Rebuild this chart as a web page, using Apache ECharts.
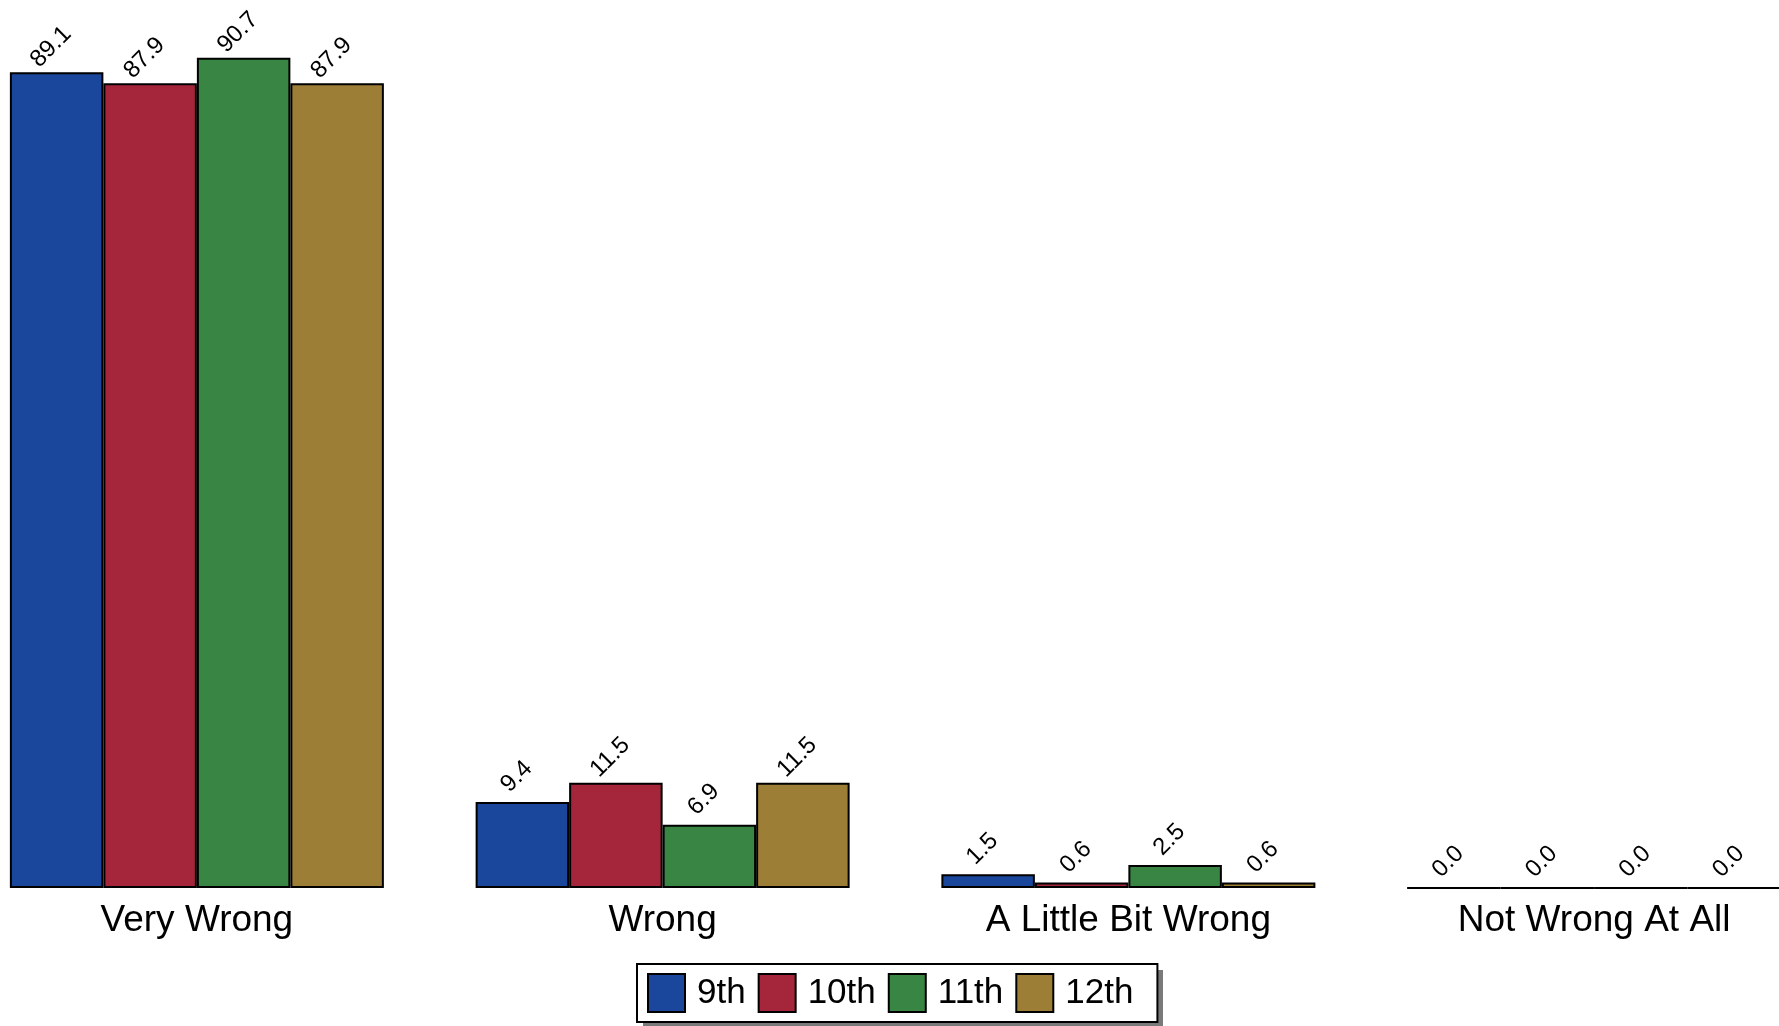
<!DOCTYPE html>
<html><head><meta charset="utf-8">
<script src="https://cdn.jsdelivr.net/npm/echarts@6/dist/echarts.min.js"></script>
<style>html,body{margin:0;padding:0;background:#fff;overflow:hidden;width:1779px;height:1026px;position:relative}#c{position:absolute;left:-36px;top:0;width:1863px;height:1026px}</style>
</head><body><div id="c"></div>
<script>
const categories = ['Very Wrong', 'Wrong', 'A Little Bit Wrong', 'Not Wrong At All'];
const seriesNames = ['9th', '10th', '11th', '12th'];
const grade9 = [89.1, 9.4, 1.5, 0.0];
const grade10 = [87.9, 11.5, 0.6, 0.0];
const grade11 = [90.7, 6.9, 2.5, 0.0];
const grade12 = [87.9, 11.5, 0.6, 0.0];
const colors = ['#1a479b', '#a5263a', '#398543', '#9c7e36'];
const allData = [grade9, grade10, grade11, grade12];
const FONT = "'Liberation Sans', Arial, Helvetica, sans-serif";

const chart = echarts.init(document.getElementById('c'));
chart.setOption({
  animation: false,
  textStyle: { fontFamily: FONT },
  grid: { left: 0, top: 0, right: 0, height: 888, containLabel: false },
  xAxis: {
    type: 'category', data: categories,
    axisLine: { show: false }, axisTick: { show: false },
    axisLabel: { fontSize: 37, color: '#000', margin: 14, fontFamily: FONT }
  },
  yAxis: { type: 'value', min: 0, max: 97, show: false, splitLine: { show: false } },
  legend: {
    bottom: 4, left: 673, z: 10,
    data: seriesNames,
    icon: 'rect', itemWidth: 37, itemHeight: 38, itemGap: 12,
    padding: [9, 24, 9, 10],
    backgroundColor: '#fff', borderColor: '#000', borderWidth: 2,
    textStyle: { fontSize: 35, color: '#000', fontFamily: FONT, padding: [0, 0, 0, 7] },
    itemStyle: { borderColor: '#000', borderWidth: 2 }
  },
  graphic: [{
    type: 'rect', z: 1, silent: true,
    shape: { x: 679, y: 970, width: 520, height: 57 },
    style: { fill: '#7a7a7a' }
  }],
  series: seriesNames.map((n, i) => ({
    name: n, type: 'bar', data: allData[i],
    barGap: '0%', barCategoryGap: '19.7%',
    itemStyle: { color: colors[i], borderColor: '#000', borderWidth: 2 },
    label: {
      show: true, position: 'top', rotate: 45, distance: 31, offset: [-8, 0],
      align: 'center', verticalAlign: 'middle',
      fontSize: 24, color: '#000', fontFamily: FONT,
      formatter: p => p.value.toFixed(1)
    }
  }))
});
</script></body></html>
